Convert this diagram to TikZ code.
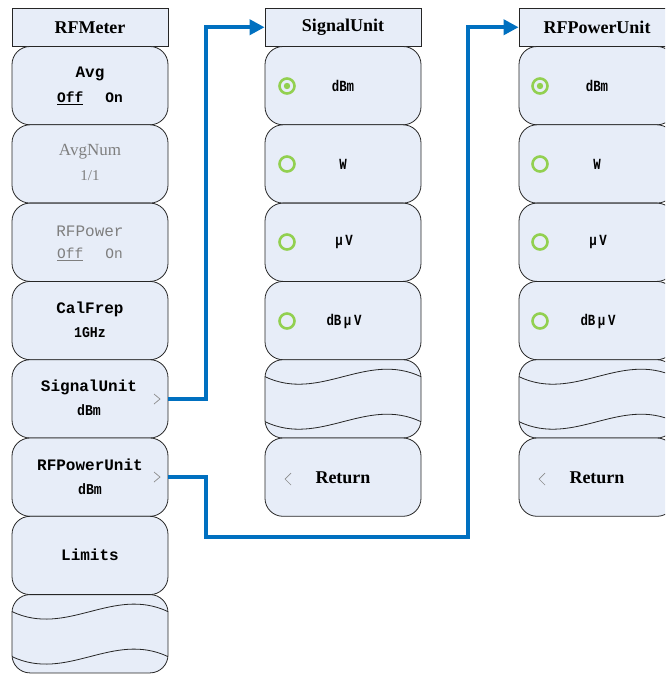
\documentclass[tikz,border=0pt]{standalone}
\usepackage{fontspec}
\setmainfont{Liberation Serif}
\setmonofont{Liberation Mono}
\newfontfamily\narrowmono[FakeStretch=0.8]{Liberation Mono}
\newfontfamily\semimono[FakeStretch=0.88]{Liberation Mono}
\usetikzlibrary{arrows.meta}
\definecolor{btnfill}{HTML}{E7EDF8}
\definecolor{connblue}{HTML}{0070C0}
\definecolor{radiogreen}{HTML}{92D050}
\definecolor{dimtext}{HTML}{7F7F7F}
\definecolor{chev}{HTML}{8C8C8C}
\begin{document}
\begin{tikzpicture}[x=1pt,y=-1pt,
  btn/.style={draw=black!85, line width=0.8pt, fill=btnfill, rounded corners=18pt, minimum width=156pt, minimum height=78.3pt, inner sep=0pt},
  ttl/.style={draw=black!85, line width=0.8pt, fill=btnfill, minimum width=156pt, minimum height=38.5pt, inner sep=0pt, font=\bfseries\fontsize{18}{20}\selectfont},
  lab/.style={font=\ttfamily\bfseries\fontsize{16}{18}\selectfont, inner sep=0pt},
  sub/.style={font=\semimono\bfseries\fontsize{15}{17}\selectfont, inner sep=0pt},
  unit/.style={font=\narrowmono\bfseries\fontsize{15.5}{17}\selectfont, inner sep=0pt},
  ret/.style={font=\bfseries\fontsize{18}{20}\selectfont, inner sep=0pt},
  dim/.style={text=dimtext},
  wave/.style={draw=black!85, line width=0.8pt},
  radio/.style={draw=radiogreen, line width=2.6pt},
  chevline/.style={draw=chev, line width=0.7pt},
  conn/.style={draw=connblue, line width=4pt, -{Triangle[length=15pt,width=15pt]}}
]
\useasboundingbox (0,0) rectangle (665,675);
\clip (0,0) rectangle (665,675);

% ---------- left column ----------
\node[ttl] (ltitle) at (90,27.25) {RFMeter};
\node[btn] (lavg) at (90,85.65) {};
\node[btn] (lnum) at (90,163.95) {};
\node[btn] (lpow) at (90,242.25) {};
\node[btn] (lcal) at (90,320.55) {};
\node[btn] (lsig) at (90,398.85) {};
\node[btn] (lrfp) at (90,477.15) {};
\node[btn] (llim) at (90,555.45) {};
\node[btn] (lwav) at (90,633.75) {};

\node[lab] (lavgt) at (90,74) {Avg};
\node[sub,font=\ttfamily\bfseries\fontsize{14.5}{16}\selectfont] (lavgs) at (90,98) {\underline{Off}\hspace{22pt}On};
\node[dim,inner sep=0pt,font=\fontsize{17}{19}\selectfont] (lnumt) at (90,152) {AvgNum};
\node[dim,inner sep=0pt,font=\fontsize{15}{17}\selectfont] (lnums) at (90,176) {1/1};
\node[lab,dim,font=\ttfamily\fontsize{16}{18}\selectfont] (lpowt) at (90,231) {RFPower};
\node[dim,inner sep=0pt,font=\ttfamily\fontsize{14.5}{16}\selectfont] (lpows) at (90,254) {\underline{Off}\hspace{22pt}On};
\node[lab] (lcalt) at (90,309) {CalFrep};
\node[sub] (lcals) at (90,333) {1GHz};
\node[lab] (lsigt) at (89,387) {SignalUnit};
\node[sub] (lsigs) at (89,410) {dBm};
\node[lab] (lrfpt) at (90,465) {RFPowerUnit};
\node[sub] (lrfps) at (90,489) {dBm};
\node[lab] (llimt) at (90,555) {Limits};
\draw[wave] (12,611.6) .. controls (67,637.6) and (113,585.6) .. (168,611.6);
\draw[wave] (12,656.6) .. controls (67,682.6) and (113,630.6) .. (168,656.6);
\draw[chevline] (154,394) -- (160,399) -- (154,404);
\draw[chevline] (154,472) -- (160,477) -- (154,482);

% ---------- middle column ----------
\node[ttl] (stitle) at (343,27.25) {SignalUnit};
\node[btn] (sdbm) at (343,85.65) {};
\node[btn] (sw) at (343,163.95) {};
\node[btn] (suv) at (343,242.25) {};
\node[btn] (sdbuv) at (343,320.55) {};
\node[btn] (swav) at (343,398.85) {};
\node[btn] (sret) at (343,477.15) {};
\node[unit] (sdbmt) at (343,86) {dBm};
\node[unit] (swt) at (343,164) {W};
\node[unit] (suvt) at (344,242) {μ\,V};
\node[unit] (sdbuvt) at (344,321) {dB\,μ\,V};
\node[ret] (srett) at (343,478) {Return};
\draw[radio] (287,86) circle (7.5pt);
\fill[radiogreen] (287,86) circle (3.2pt);
\draw[radio] (287,164) circle (7.5pt);
\draw[radio] (287,242) circle (7.5pt);
\draw[radio] (287,321) circle (7.5pt);
\draw[wave] (265,376.7) .. controls (320,402.7) and (366,350.7) .. (421,376.7);
\draw[wave] (265,421.7) .. controls (320,447.7) and (366,395.7) .. (421,421.7);
\draw[chevline] (291,473) -- (285,479) -- (291,485);

% ---------- right column ----------
\node[ttl] (rtitle) at (597,27.25) {RFPowerUnit};
\node[btn] (rdbm) at (597,85.65) {};
\node[btn] (rw) at (597,163.95) {};
\node[btn] (ruv) at (597,242.25) {};
\node[btn] (rdbuv) at (597,320.55) {};
\node[btn] (rwav) at (597,398.85) {};
\node[btn] (rret) at (597,477.15) {};
\node[unit] (rdbmt) at (597,86) {dBm};
\node[unit] (rwt) at (597,164) {W};
\node[unit] (ruvt) at (598,242) {μ\,V};
\node[unit] (rdbuvt) at (598,321) {dB\,μ\,V};
\node[ret] (rrett) at (597,478) {Return};
\draw[radio] (540,86) circle (7.5pt);
\fill[radiogreen] (540,86) circle (3.2pt);
\draw[radio] (540,164) circle (7.5pt);
\draw[radio] (540,242) circle (7.5pt);
\draw[radio] (540,321) circle (7.5pt);
\draw[wave] (519,376.7) .. controls (574,402.7) and (620,350.7) .. (675,376.7);
\draw[wave] (519,421.7) .. controls (574,447.7) and (620,395.7) .. (675,421.7);
\draw[chevline] (545,473) -- (539,479) -- (545,485);

% ---------- connectors ----------
\coordinate (bend) at (468,537);
\draw[conn] (lsig.east) -- ++(38,0) |- (stitle.west);
\draw[conn] (lrfp.east) -- ++(38,0) |- (bend) |- (rtitle.west);
\end{tikzpicture}
\end{document}
